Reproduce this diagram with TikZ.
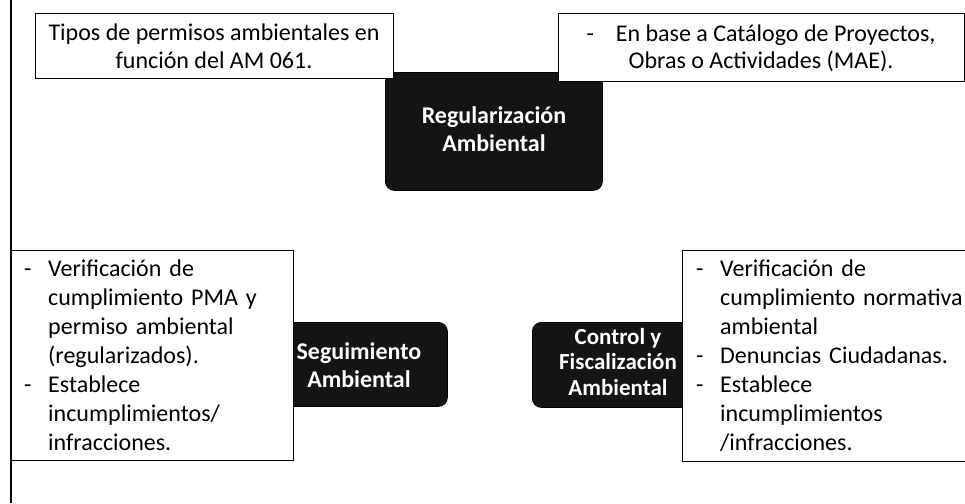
\documentclass[tikz,border=0pt]{standalone}
\usepackage{fontspec}
\setmainfont{Carlito}
\newcommand{\bdash}{\makebox[24pt][l]{-}}
\newcommand{\bind}{\hspace*{24pt}}
\begin{document}
\begin{tikzpicture}[x=1pt,y=-1pt,
  wbox/.style={draw=black, line width=1.3pt, fill=white, inner sep=0pt},
  dbox/.style={draw=black, fill=black!92, rounded corners=9pt, line width=0.8pt, inner sep=0pt},
  dtext/.style={text=white, font=\fontsize{24}{28}\selectfont\bfseries, align=center, inner sep=0pt},
  wtext/.style={font=\fontsize{24}{29}\selectfont, inner sep=0pt},
  vline/.style={draw=black, line width=1.8pt}
]
\useasboundingbox (0,0) rectangle (965,503);
\fill[white] (0,0) rectangle (965,503);

% left vertical rule
\coordinate (ltop) at (11,0);
\coordinate (lbot) at (11,503);
\draw[vline] (ltop) -- (lbot);

% central dark box
\node[dbox, minimum width=217pt, minimum height=118pt, anchor=north west] (reg) at (385,72) {};
\node[dtext] (regt) at (494,129) {Regularización\\Ambiental};

% top boxes
\node[wbox, minimum width=358pt, minimum height=65pt, anchor=north west] (tl) at (35,13) {};
\node[wtext, align=center, font=\fontsize{24}{28}\selectfont] (tlt) at (214,46) {Tipos de permisos ambientales en\\función del AM 061.};

\node[wbox, minimum width=406pt, minimum height=68pt, anchor=north west] (tr) at (558,13) {};
\node[wtext, align=center, font=\fontsize{24}{27}\selectfont] (trt) at (761,48) {-\hspace{22pt}En base a Catálogo de Proyectos,\\Obras o Actividades (MAE).};

% bottom dark boxes (drawn first, partly covered)
\node[dbox, minimum width=182pt, minimum height=84pt, anchor=north west] (seg) at (265,322) {};
\node[dbox, minimum width=180pt, minimum height=85pt, anchor=north west] (ctl) at (532,322) {};

% bottom-left box
\node[wbox, minimum width=282pt, minimum height=210pt, anchor=north west] (bl) at (11,250) {};
\node[wtext, align=left, text width=262pt, anchor=west] (blt) at (24,355) {%
\bdash Verificación de\\
\bind cumplimiento PMA y\\
\bind permiso ambiental\\
\bind (regularizados).\\
\bdash Establece\\
\bind incumplimientos/\\
\bind infracciones.};

% bottom-right box
\node[wbox, minimum width=330pt, minimum height=211pt, anchor=north west] (br) at (682,250) {};
\node[wtext, align=left, text width=300pt, anchor=west] (brt) at (696,355.5) {%
\bdash Verificación de\\
\bind cumplimiento normativa\\
\bind ambiental\\
\bdash Denuncias Ciudadanas.\\
\bdash Establece\\
\bind incumplimientos\\
\bind /infracciones.};

% dark box labels
\node[dtext] (segt) at (359,365) {Seguimiento\\Ambiental};
\node[dtext, font=\fontsize{23}{25.5}\selectfont\bfseries] (ctlt) at (618,362) {Control y\\Fiscalización\\Ambiental};
\end{tikzpicture}
\end{document}
